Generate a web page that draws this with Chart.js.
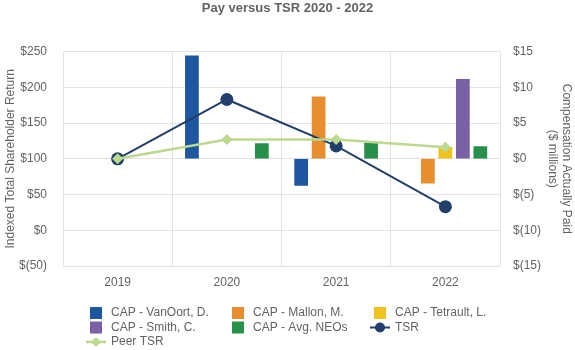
<!DOCTYPE html>
<html>
<head>
<meta charset="utf-8">
<script src="https://cdn.jsdelivr.net/npm/chart.js@4/dist/chart.umd.min.js"></script>
<style>
html,body{margin:0;padding:0;background:#fff;}
#wrap{width:575px;height:350px;position:relative;}
</style>
</head>
<body>
<div id="wrap"><canvas id="c" width="575" height="350"></canvas></div>
<script>
const categories = ['2019', '2020', '2021', '2022'];
const capVanOort = [null, 14.6, -3.9, null];
const capMallon = [null, null, 8.85, -3.6];
const capTetrault = [null, null, null, 1.8];
const capSmith = [null, null, null, 11.3];
const capAvgNEOs = [null, 2.3, 2.4, 1.9];
const tsr = [100, 183, 118, 33];
const peerTsr = [100, 127, 127, 116];
const leftTicks = [-50, 0, 50, 100, 150, 200, 250];
const rightTicks = [-15, -10, -5, 0, 5, 10, 15];

const FONT = "'Liberation Sans', Arial, sans-serif";
const GREY = '#636363';
const GRID = '#E3E3E3';
const money = v => v < 0 ? '$(' + Math.abs(v) + ')' : '$' + v;

const COLORS = {
  van: '#1F56A0', mallon: '#E88E2E', tetrault: '#EFC21E', smith: '#7A61A6',
  avg: '#27904A', tsr: '#223F6B', peer: '#BBD98F'
};

const legendPlugin = {
  id: 'gridLegend',
  afterDraw(chart) {
    const ctx = chart.ctx;
    const cols = [90, 232, 374];
    const rows = [313, 327.5, 342];
    ctx.save();
    ctx.font = '12px ' + FONT;
    ctx.textBaseline = 'middle';
    ctx.textAlign = 'left';
    chart.data.datasets.forEach((ds, i) => {
      const x = cols[i % 3];
      const y = rows[Math.floor(i / 3)];
      if (ds.type === 'line') {
        const cx = x + 6;
        ctx.strokeStyle = ds.borderColor;
        ctx.lineWidth = ds.borderWidth;
        ctx.beginPath();
        ctx.moveTo(cx - 10, y);
        ctx.lineTo(cx + 10, y);
        ctx.stroke();
        ctx.fillStyle = ds.pointBackgroundColor;
        ctx.beginPath();
        const r = ds.legendRadius;
        if (ds.pointStyle === 'circle') {
          ctx.arc(cx, y, r, 0, Math.PI * 2);
        } else {
          ctx.moveTo(cx, y - r); ctx.lineTo(cx + r, y); ctx.lineTo(cx, y + r); ctx.lineTo(cx - r, y); ctx.closePath();
        }
        ctx.fill();
      } else {
        ctx.fillStyle = ds.backgroundColor;
        ctx.fillRect(x, y - 6, 12, 12);
      }
      ctx.fillStyle = GREY;
      ctx.fillText(ds.label, x + 21, y);
    });
    ctx.restore();
  }
};

const barDs = (label, data, color) => ({
  type: 'bar', label, data, backgroundColor: color,
  borderColor: 'rgba(255,255,255,0.3)', borderWidth: 1,
  yAxisID: 'y1', order: 3, categoryPercentage: 0.8, barPercentage: 0.9
});

new Chart(document.getElementById('c'), {
  data: {
    labels: categories,
    datasets: [
      barDs('CAP - VanOort, D.', capVanOort, COLORS.van),
      barDs('CAP - Mallon, M.', capMallon, COLORS.mallon),
      barDs('CAP - Tetrault, L.', capTetrault, COLORS.tetrault),
      barDs('CAP - Smith, C.', capSmith, COLORS.smith),
      barDs('CAP - Avg. NEOs', capAvgNEOs, COLORS.avg),
      {
        type: 'line', label: 'TSR', data: tsr, yAxisID: 'y', order: 2,
        borderColor: COLORS.tsr, borderWidth: 2, pointStyle: 'circle',
        pointRadius: 6.5, pointBackgroundColor: COLORS.tsr, pointBorderWidth: 0,
        legendRadius: 5, tension: 0
      },
      {
        type: 'line', label: 'Peer TSR', data: peerTsr, yAxisID: 'y', order: 1,
        borderColor: COLORS.peer, borderWidth: 2.5, pointStyle: 'rectRot',
        pointRadius: 5.5, pointBackgroundColor: COLORS.peer, pointBorderWidth: 0,
        legendRadius: 5, tension: 0
      }
    ]
  },
  options: {
    responsive: false,
    animation: false,
    layout: { padding: { left: 0, right: 0, top: 0, bottom: 54 } },
    plugins: {
      legend: { display: false },
      tooltip: { enabled: false },
      title: {
        display: true, text: 'Pay versus TSR 2020 - 2022', color: GREY,
        font: { family: FONT, size: 13, weight: 'bold' },
        padding: { top: 1, bottom: 35 }
      }
    },
    scales: {
      x: {
        offset: true,
        grid: { display: true, offset: true, color: GRID, drawTicks: false },
        border: { display: false },
        ticks: { color: GREY, font: { family: FONT, size: 12 }, padding: 9 },
        afterFit(s) { s.height = 30; }
      },
      y: {
        position: 'left', min: -50, max: 250,
        afterBuildTicks(s) { s.ticks = leftTicks.map(v => ({ value: v })); },
        grid: { color: GRID, drawTicks: false },
        border: { display: true, color: GRID },
        ticks: { color: GREY, font: { family: FONT, size: 12 }, padding: 16, callback: v => money(v) },
        title: {
          display: true, text: 'Indexed Total Shareholder Return', color: GREY,
          font: { family: FONT, size: 12 }, padding: { top: 3, bottom: 0 }
        },
        afterFit(s) { s.width = 63; }
      },
      y1: {
        position: 'right', min: -15, max: 15,
        afterBuildTicks(s) { s.ticks = rightTicks.map(v => ({ value: v })); },
        grid: { display: false, drawTicks: false },
        border: { display: false },
        ticks: { color: GREY, font: { family: FONT, size: 12 }, padding: 13, callback: v => money(v) },
        title: {
          display: true, text: ['Compensation Actually Paid', '($ millions)'], color: GREY,
          font: { family: FONT, size: 12 }, padding: { top: 1, bottom: 0 }
        },
        afterFit(s) { s.width = 75; }
      }
    }
  },
  plugins: [legendPlugin]
});
</script>
</body>
</html>
